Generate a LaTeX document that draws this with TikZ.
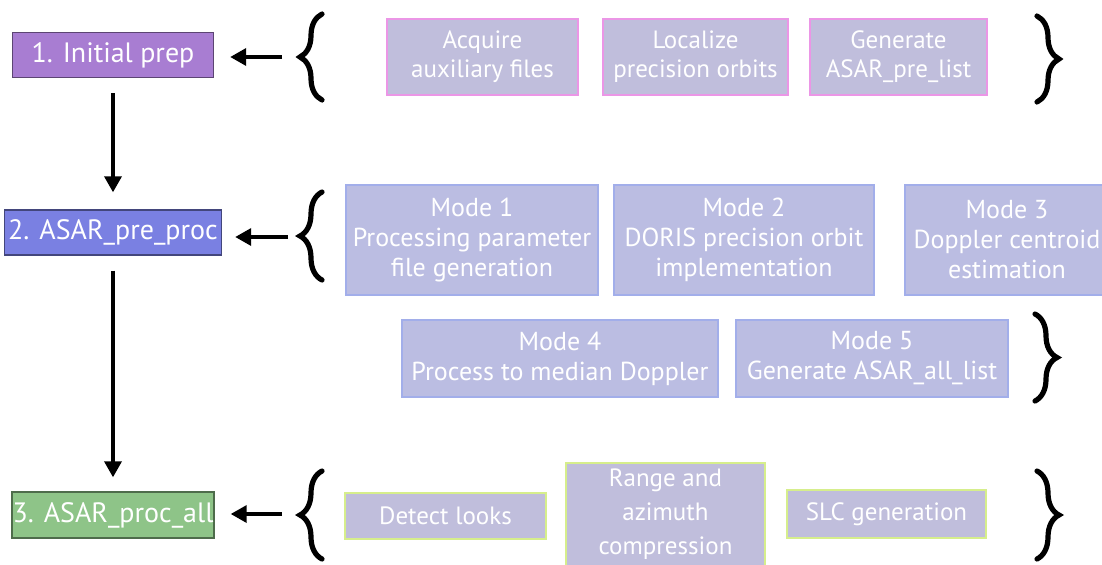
\documentclass[tikz,border=0pt]{standalone}
\usepackage{fontspec}
\setmainfont{PT Sans}
\usepackage{tikz}
\usetikzlibrary{positioning, arrows.meta, decorations.pathreplacing}

\definecolor{prepfill}{HTML}{A87DD2}
\definecolor{preprocfill}{HTML}{7A80E2}
\definecolor{procallfill}{HTML}{8EC488}
\definecolor{subfill}{HTML}{C0BEDC}
\definecolor{modefill}{HTML}{BBBDE2}
\definecolor{pinkline}{HTML}{EB96E6}
\definecolor{blueline}{HTML}{A2AEEA}
\definecolor{limeline}{HTML}{D6EE8C}

\begin{document}
\begin{tikzpicture}[x=0.5pt, y=-0.5pt, >={Triangle[length=8pt,width=8.5pt]},
  stage/.style={draw=#1!55!black, fill=#1, line width=0.7pt, minimum height=22.5pt, align=center,
    text=white, font=\fontsize{14}{16}\selectfont, inner sep=0pt},
  sub/.style={draw=#1, fill=subfill, line width=1pt, align=center, text=white,
    font=\fontsize{12.5}{14.5}\selectfont, inner sep=0pt},
  mode/.style={draw=blueline, fill=modefill, line width=1pt, align=center, text=white,
    font=\fontsize{13}{15}\selectfont, inner sep=0pt},
  brace/.style={decorate, decoration={brace, amplitude=11pt}, line width=2.6pt, line cap=round},
  link/.style={->, line width=1.75pt}]

  \useasboundingbox (0,0) rectangle (1102,564);
  \clip (0,0) rectangle (1102,564);

  % processing stages
  \node[stage=prepfill, minimum width=100.5pt] (prep) at (113,55) {1. Initial prep};
  \node[stage=preprocfill, minimum width=108.5pt] (preproc) at (113,232.5) {2. ASAR\_pre\_proc};
  \node[stage=procallfill, minimum width=101pt, minimum height=23pt] (procall) at (113,515) {3. ASAR\_proc\_all};

  % step 1
  \node[sub=pinkline, minimum width=95.5pt, minimum height=38pt] (acq) at (482.5,57) {Acquire\\auxiliary files};
  \node[sub=pinkline, minimum width=92.5pt, minimum height=38pt] (loc) at (695.5,57) {Localize\\precision orbits};
  \node[sub=pinkline, minimum width=88.5pt, minimum height=38pt] (genpre) at (898.5,57) {Generate\\ASAR\_pre\_list};

  % step 2
  \node[mode, minimum width=126pt, minimum height=55pt] (mode1) at (472,240) {Mode 1\\Processing parameter\\file generation};
  \node[mode, minimum width=130pt, minimum height=55pt] (mode2) at (744,240) {Mode 2\\DORIS precision orbit\\implementation};
  \node[mode, minimum width=102pt, minimum height=55pt] (mode3) at (1007,240) {Mode 3\\Doppler centroid\\estimation};
  \node[mode, minimum width=158pt, minimum height=38.5pt] (mode4) at (560,358.5) {Mode 4\\Process to median Doppler};
  \node[mode, minimum width=136pt, minimum height=38.5pt] (mode5) at (872,358.5) {Mode 5\\Generate ASAR\_all\_list};

  % step 3
  \node[sub=limeline, minimum width=100.5pt, minimum height=23pt] (detect) at (445.5,516) {Detect looks};
  \node[sub=limeline, minimum width=99.5pt, minimum height=51.5pt, font=\fontsize{12.5}{17}\selectfont] (rangeaz) at (665.5,514.5) {Range and\\azimuth\\compression};
  \node[sub=limeline, minimum width=99.5pt, minimum height=24pt] (slc) at (886.5,514) {SLC generation};

  % braces
  \draw[brace] (322,100) -- (322,14);
  \draw[brace] (1037,16) -- (1037,102);
  \draw[brace] (322,280) -- (322,192);
  \draw[brace] (1035,314) -- (1035,401);
  \draw[brace] (322,559) -- (322,471);
  \draw[brace] (1037,471) -- (1037,559);

  \coordinate (from1) at (282,57);
  \coordinate (from2) at (288,237);
  \coordinate (from3) at (282,514);

  \draw[link, shorten >=8pt] (from1) -- (from1 -| prep.east);
  \draw[link, shorten >=6.5pt] (from2) -- (from2 -| preproc.east);
  \draw[link, shorten >=8pt] (from3) -- (from3 -| procall.east);
  \draw[link, shorten <=7.5pt, shorten >=8.5pt] (prep) -- (preproc);
  \draw[link, shorten <=7.5pt, shorten >=7pt] (preproc) -- (procall);
\end{tikzpicture}
\end{document}
